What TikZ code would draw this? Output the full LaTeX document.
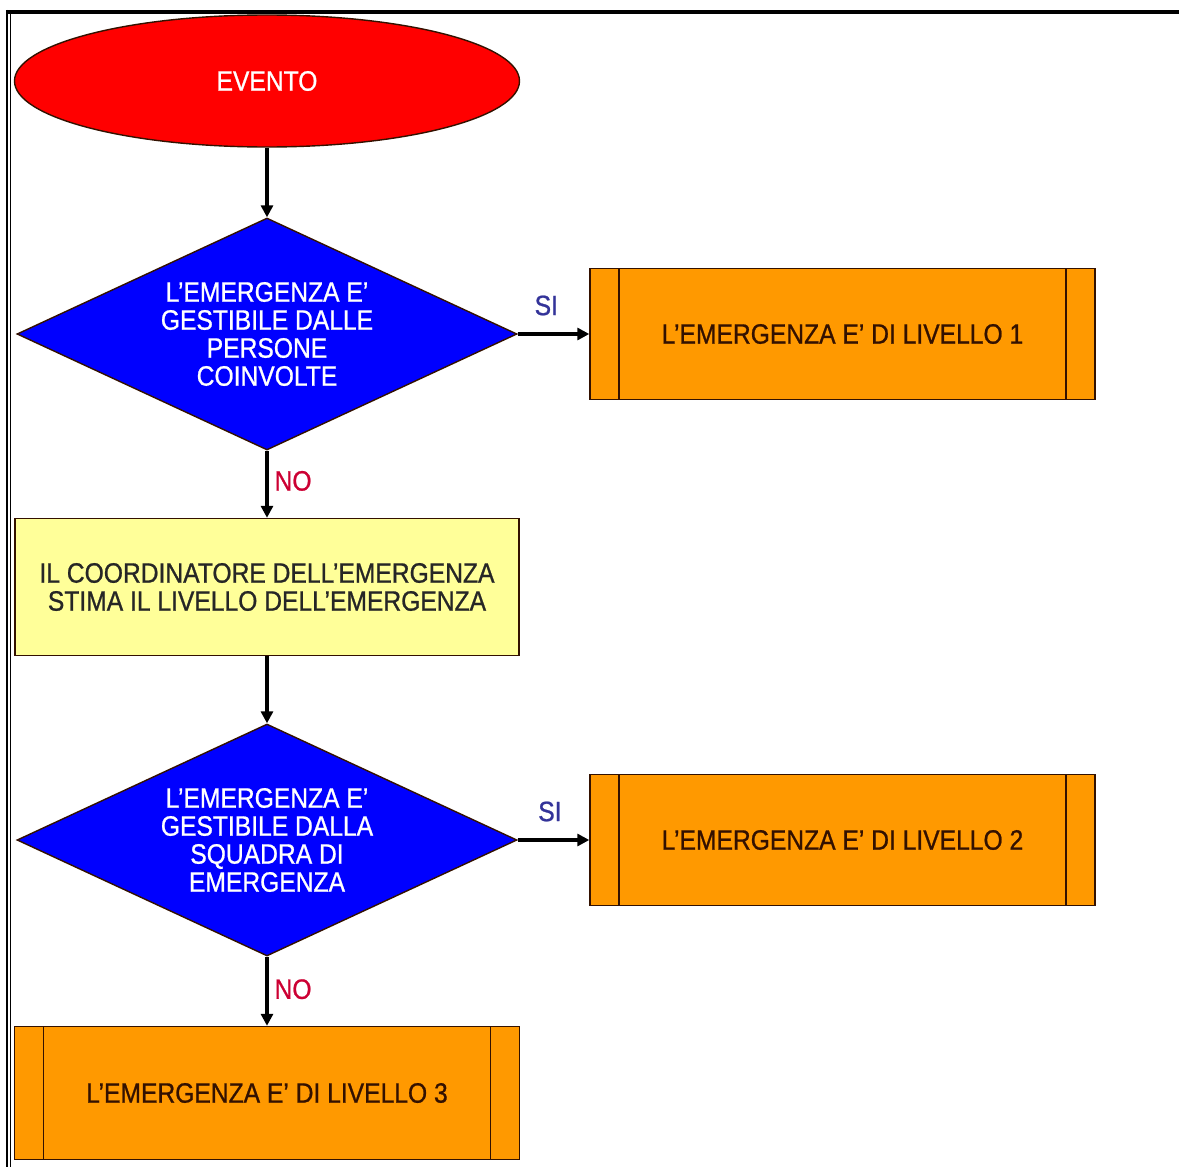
\documentclass[tikz,border=0pt]{standalone}
\usepackage{fontspec}
\setmainfont{Liberation Sans}[FakeStretch=0.88, FakeBold=0.8]
\usetikzlibrary{shapes.geometric,arrows.meta}

\definecolor{evred}{RGB}{255,0,0}
\definecolor{decblue}{RGB}{0,0,255}
\definecolor{lvorange}{RGB}{255,153,0}
\definecolor{coyellow}{RGB}{255,255,153}
\definecolor{edgedark}{RGB}{51,17,0}
\definecolor{siblue}{RGB}{51,51,153}
\definecolor{nored}{RGB}{204,0,51}

\begin{document}
\begin{tikzpicture}[node distance=126.5pt,
  every node/.style={font=\fontsize{14}{14}\selectfont, align=center, inner sep=0pt},
  start/.style={ellipse, draw=edgedark, line width=0.7pt, fill=evred, text=white, minimum width=252.5pt, minimum height=66pt},
  decision/.style={diamond, aspect=2.155, draw=edgedark, line width=0.7pt, fill=decblue, text=white, minimum width=250pt, minimum height=116pt},
  task/.style={rectangle, draw=edgedark, line width=0.7pt, fill=coyellow, text=black!85, minimum width=252pt, minimum height=68.5pt},
  level/.style={rectangle, draw=edgedark, line width=0.7pt, fill=lvorange, text=edgedark, minimum width=252.5pt, minimum height=65.5pt,
    path picture={\draw[edgedark, line width=0.7pt]
      ([xshift=14.5pt]path picture bounding box.north west) -- ([xshift=14.5pt]path picture bounding box.south west)
      ([xshift=-14.5pt]path picture bounding box.north east) -- ([xshift=-14.5pt]path picture bounding box.south east);}},
  flow/.style={-{Triangle[length=6pt,width=6pt]}, line width=1.6pt},
  silabel/.style={text=siblue},
  nolabel/.style={text=nored}]

  \useasboundingbox (-133.5pt,40.5pt) rectangle (456pt,-543pt);

  % Frame
  \draw[line width=2pt] (-130.5pt,34.5pt) -- (456pt,34.5pt);
  \draw[line width=0.7pt] (-130pt,35.5pt) -- (-130pt,-543pt);
  \draw[line width=0.7pt] (-128.25pt,33.5pt) -- (-128.25pt,-543pt);

  % Main column
  \node[start] (E0) {EVENTO};
  \node[decision, below of=E0] (D1) {L'EMERGENZA E'\\GESTIBILE DALLE\\PERSONE\\COINVOLTE};
  \node[task, below of=D1] (C1) {IL COORDINATORE DELL'EMERGENZA\\STIMA IL LIVELLO DELL'EMERGENZA};
  \node[decision, below of=C1] (D2) {L'EMERGENZA E'\\GESTIBILE DALLA\\SQUADRA DI\\EMERGENZA};
  \node[level, below of=D2, minimum height=66.5pt] (L3) {L'EMERGENZA E' DI LIVELLO 3};

  % Right column
  \node[level, right of=D1, node distance=287.75pt] (L1) {L'EMERGENZA E' DI LIVELLO 1};
  \node[level, right of=D2, node distance=287.75pt] (L2) {L'EMERGENZA E' DI LIVELLO 2};

  % Vertical arrows
  \draw[flow] (E0) -- (D1);
  \draw[flow] (D1) -- node[nolabel, right=3pt, pos=0.45] {NO} (C1);
  \draw[flow] (C1) -- (D2);
  \draw[flow] (D2) -- node[nolabel, right=3pt, pos=0.47] {NO} (L3);

  % Horizontal arrows
  \draw[flow] (D1) -- node[silabel, above=8.5pt, pos=0.4] {SI} (L1);
  \draw[flow] (D2) -- node[silabel, above=8.5pt, pos=0.45] {SI} (L2);

\end{tikzpicture}
\end{document}
